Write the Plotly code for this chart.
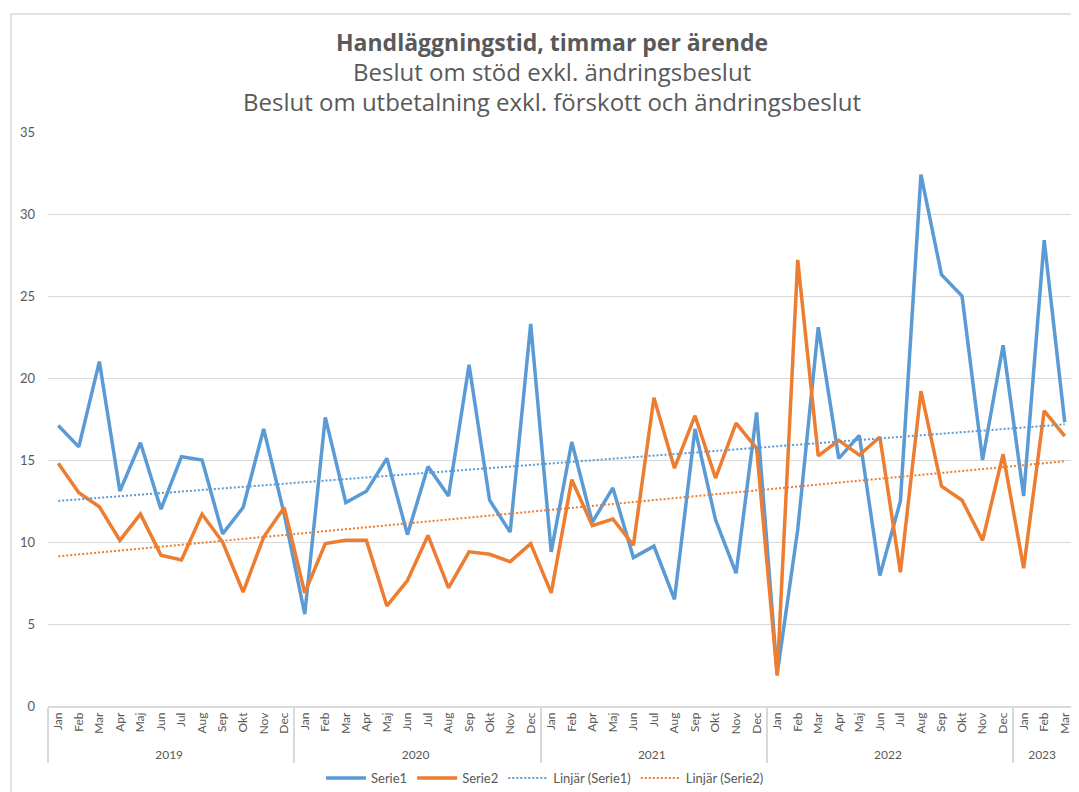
import numpy as np
import plotly.graph_objects as go

# ---- data ----
years_2019 = ["Jan", "Feb", "Mar", "Apr", "Maj", "Jun", "Jul", "Aug", "Sep", "Okt", "Nov", "Dec"]
years_2020 = ["Jan", "Feb", "Mar", "Apr", "Maj", "Jun", "Jul", "Aug", "Sep", "Okt", "Nov", "Dec"]
years_2021 = ["Jan", "Feb", "Apr", "Maj", "Jun", "Jul", "Aug", "Sep", "Okt", "Nov", "Dec"]
years_2022 = ["Jan", "Feb", "Mar", "Apr", "Maj", "Jun", "Jul", "Aug", "Sep", "Okt", "Nov", "Dec"]
years_2023 = ["Jan", "Feb", "Mar"]
month_groups = [("2019", years_2019), ("2020", years_2020), ("2021", years_2021),
                ("2022", years_2022), ("2023", years_2023)]

serie1 = [17.1, 15.8, 21.0, 13.1, 16.05, 12.0, 15.2, 15.0, 10.5, 12.1, 16.9, 11.7,
          5.6, 17.6, 12.4, 13.1, 15.1, 10.45, 14.6, 12.8, 20.8, 12.55, 10.6, 23.3,
          9.4, 16.1, 11.2, 13.3, 9.05, 9.75, 6.5, 16.9, 11.35, 8.1, 17.9,
          1.95, 10.75, 23.1, 15.1, 16.5, 7.95, 12.5, 32.4, 26.3, 25.0, 15.0, 22.0,
          12.8, 28.4, 17.3]
serie2 = [14.8, 13.0, 12.15, 10.1, 11.7, 9.2, 8.9, 11.7, 10.0, 6.95, 10.3, 12.1,
          6.9, 9.9, 10.1, 10.1, 6.1, 7.65, 10.4, 7.2, 9.4, 9.25, 8.8, 9.9,
          6.9, 13.8, 11.0, 11.4, 9.8, 18.8, 14.5, 17.7, 13.9, 17.25, 15.7,
          1.85, 27.2, 15.25, 16.2, 15.3, 16.4, 8.15, 19.2, 13.4, 12.55, 10.1, 15.35,
          8.4, 18.0, 16.45]

title_lines = ["Handläggningstid, timmar per ärende",
               "Beslut om stöd exkl. ändringsbeslut",
               "Beslut om utbetalning exkl. förskott och ändringsbeslut"]

# ---- build categories ----
year_level = []
month_level = []
for yr, months in month_groups:
    for m in months:
        year_level.append(yr)
        month_level.append(m)
x_cat = [year_level, month_level]

idx = np.arange(1, len(serie1) + 1)
trend1 = np.polyval(np.polyfit(idx, serie1, 1), idx)
trend2 = np.polyval(np.polyfit(idx, serie2, 1), idx)

BLUE = "#5B9BD5"
ORANGE = "#ED7D31"
GREY = "#595959"
GRID = "#D9D9D9"
FONT = "Lato"
TFONT = "Open Sans"

fig = go.Figure()
fig.add_trace(go.Scatter(x=x_cat, y=serie1, mode="lines", name="Serie1",
                         line=dict(color=BLUE, width=3.5)))
fig.add_trace(go.Scatter(x=x_cat, y=serie2, mode="lines", name="Serie2",
                         line=dict(color=ORANGE, width=3.5)))
fig.add_trace(go.Scatter(x=x_cat, y=trend1, mode="lines", name="Linjär (Serie1)",
                         line=dict(color=BLUE, width=2, dash="2px,2px")))
fig.add_trace(go.Scatter(x=x_cat, y=trend2, mode="lines", name="Linjär (Serie2)",
                         line=dict(color=ORANGE, width=2, dash="2px,2px")))

# page body has an 8px margin; work in reference-pixel coordinates
OFF = 8
W, H = 1079 - OFF, 792 - OFF
PL, PR, PT, PB = 48, 1075, 132, 706          # plot box in reference pixels
L, R, T, B = PL - OFF, W - (PR - OFF), PT - OFF, H - (PB - OFF)
pw = W - L - R
ph = H - T - B


def px_x(x):
    return (x - OFF - L) / pw


def px_y(y):
    return (H - B - (y - OFF)) / ph


annotations = []
for i, (txt, yc) in enumerate(zip(title_lines, [42, 72, 101])):
    annotations.append(dict(
        text=f"<b>{txt}</b>" if i == 0 else txt,
        xref="paper", yref="paper", x=px_x(552), y=px_y(yc),
        xanchor="center", yanchor="middle", showarrow=False,
        font=dict(family=TFONT, size=23 if i == 0 else 24, color=GREY)))

fig.update_layout(
    width=W, height=H,
    margin=dict(l=L, r=R, t=T, b=B, autoexpand=False),
    paper_bgcolor="white", plot_bgcolor="white",
    font=dict(family=FONT, color=GREY, size=12),
    showlegend=True,
    legend=dict(orientation="h", x=px_x(545), xanchor="center",
                y=px_y(778), yanchor="middle",
                font=dict(family=FONT, size=13, color=GREY),
                itemwidth=40, bgcolor="rgba(0,0,0,0)"),
    annotations=annotations,
    shapes=[dict(type="rect", xref="paper", yref="paper",
                 x0=px_x(11), x1=px_x(1095), y0=px_y(14), y1=px_y(810),
                 line=dict(color=GRID, width=1.5), fillcolor="rgba(0,0,0,0)",
                 layer="below")],
)

fig.update_yaxes(range=[0, 35], dtick=5, showgrid=True, gridcolor=GRID, gridwidth=1,
                 zeroline=False, showline=False, ticks="",
                 ticklabelstandoff=12,
                 tickfont=dict(family=FONT, size=13, color=GREY))
fig.update_xaxes(type="multicategory", range=[-0.5, len(serie1) - 0.5],
                 tickangle=-90, showgrid=False,
                 showline=True, linecolor=GRID, linewidth=1.5,
                 showdividers=True, dividercolor=GRID, dividerwidth=1.5,
                 ticks="", tickfont=dict(family=FONT, size=12, color=GREY))

fig.write_html("out.html")
